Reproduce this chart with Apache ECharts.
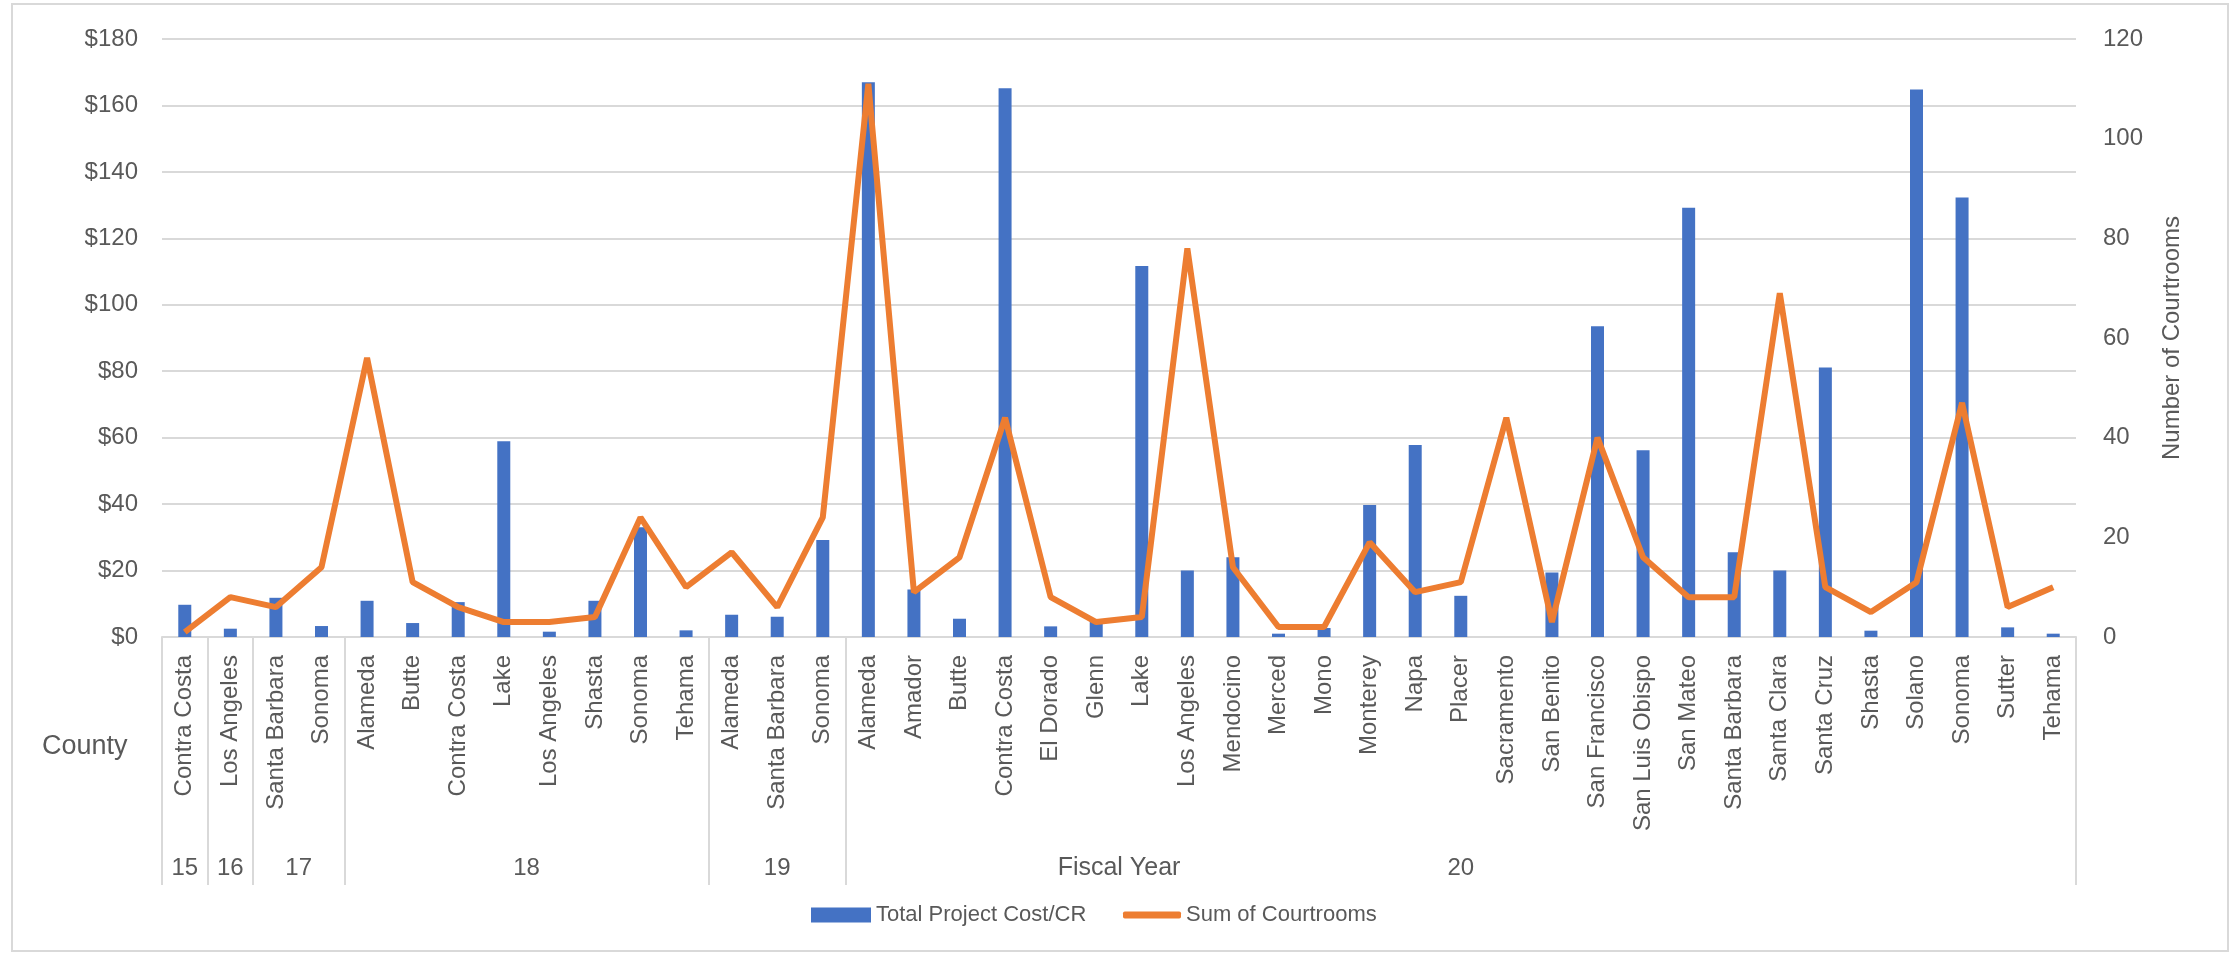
<!DOCTYPE html>
<html>
<head>
<meta charset="utf-8">
<script src="https://cdn.jsdelivr.net/npm/echarts@6/dist/echarts.min.js"></script>
<style>
  html, body { margin: 0; padding: 0; background: #ffffff; }
  #chart { width: 2239px; height: 954px; }
</style>
</head>
<body>
<div id="chart"></div>
<script>
// ---- Data ----
const categories = [
  'Contra Costa',
  'Los Angeles',
  'Santa Barbara', 'Sonoma',
  'Alameda', 'Butte', 'Contra Costa', 'Lake', 'Los Angeles', 'Shasta', 'Sonoma', 'Tehama',
  'Alameda', 'Santa Barbara', 'Sonoma',
  'Alameda', 'Amador', 'Butte', 'Contra Costa', 'El Dorado', 'Glenn', 'Lake', 'Los Angeles',
  'Mendocino', 'Merced', 'Mono', 'Monterey', 'Napa', 'Placer', 'Sacramento', 'San Benito',
  'San Francisco', 'San Luis Obispo', 'San Mateo', 'Santa Barbara', 'Santa Clara', 'Santa Cruz',
  'Shasta', 'Solano', 'Sonoma', 'Sutter', 'Tehama'
];
const fiscalYears = ['15', '16', '17', '18', '19', '20'];
const fiscalYearSizes = [1, 1, 2, 8, 3, 27];

const totalProjectCostPerCR = [
  9.7,
  2.5,
  11.8, 3.3,
  10.9, 4.2, 10.5, 58.9, 1.6, 10.9, 33, 2,
  6.7, 6.1, 29.2,
  167, 14.3, 5.5, 165.2, 3.2, 4.8, 111.7, 20,
  24, 1, 2.7, 39.7, 57.8, 12.4, 0, 19.4,
  93.5, 56.2, 129.2, 25.5, 20, 81.1,
  1.9, 164.8, 132.3, 2.9, 1
];
const sumOfCourtrooms = [
  1,
  8,
  6, 14,
  56, 11, 6, 3, 3, 4, 24, 10,
  17, 6, 24,
  111, 9, 16, 44, 8, 3, 4, 78,
  14, 2, 2, 19, 9, 11, 44, 3,
  40, 16, 8, 8, 69, 10,
  5, 11, 47, 6, 10
];
const leftTicks = { min: 0, max: 180, interval: 20 };
const rightTicks = { min: 0, max: 120, interval: 20 };

// group boundaries / centres derived from the group sizes
const groupBounds = [0];
const groupCenters = [];
fiscalYearSizes.forEach(function (s) {
  const start = groupBounds[groupBounds.length - 1];
  groupCenters.push(start + s / 2);
  groupBounds.push(start + s);
});

const TEXT = '#595959';
const GRID = '#d9d9d9';
const FONT = "'Liberation Sans', Arial, sans-serif";

const chart = echarts.init(document.getElementById('chart'));
const gridBox = { left: 162, right: 163, top: 39, bottom: 317 };

chart.setOption({
  animation: false,
  backgroundColor: '#ffffff',
  textStyle: { fontFamily: FONT, color: TEXT },
  title: {
    text: 'County',
    left: 37, top: 728,
    textStyle: { fontSize: 27, fontWeight: 'normal', color: TEXT, fontFamily: FONT }
  },
  legend: [
    {
      data: [{ name: 'Total Project Cost/CR', icon: 'rect' }],
      left: 806, top: 899,
      itemWidth: 60, itemHeight: 15, itemGap: 5,
      textStyle: { fontSize: 22, color: TEXT, fontFamily: FONT }
    },
    {
      data: [{ name: 'Sum of Courtrooms', icon: 'roundRect' }],
      left: 1118, top: 899,
      itemWidth: 58, itemHeight: 7, itemGap: 5,
      textStyle: { fontSize: 22, color: TEXT, fontFamily: FONT }
    }
  ],
  grid: [
    Object.assign({}, gridBox),
    Object.assign({}, gridBox)
  ],
  xAxis: [
    {
      type: 'category',
      gridIndex: 0,
      data: categories,
      axisLine: { show: true, lineStyle: { color: GRID, width: 2 } },
      axisTick: { show: false },
      axisLabel: {
        interval: 0, rotate: 90, margin: 18,
        fontSize: 24, color: TEXT, fontFamily: FONT
      }
    },
    {
      type: 'value',
      gridIndex: 1,
      min: 0, max: categories.length,
      position: 'bottom',
      axisLine: { show: false },
      splitLine: { show: false },
      axisTick: {
        show: true, inside: false, length: 248,
        customValues: groupBounds,
        lineStyle: { color: GRID, width: 2 }
      },
      axisLabel: {
        show: true, margin: 219,
        customValues: groupCenters,
        fontSize: 24, color: TEXT, fontFamily: FONT,
        formatter: function (v) {
          const i = groupCenters.indexOf(v);
          return i >= 0 ? fiscalYears[i] : '';
        }
      },
      name: 'Fiscal Year',
      nameLocation: 'middle',
      nameGap: 219,
      nameMoveOverlap: false,
      nameTextStyle: { fontSize: 25, color: TEXT, fontFamily: FONT, verticalAlign: 'top' }
    }
  ],
  yAxis: [
    {
      type: 'value',
      gridIndex: 0,
      position: 'left',
      min: leftTicks.min, max: leftTicks.max, interval: leftTicks.interval,
      axisLine: { show: false },
      axisTick: { show: false },
      splitLine: { show: true, lineStyle: { color: GRID, width: 2 } },
      axisLabel: {
        margin: 24, fontSize: 24, color: TEXT, fontFamily: FONT,
        formatter: function (v) { return '$' + v; }
      }
    },
    {
      type: 'value',
      gridIndex: 0,
      position: 'right',
      min: rightTicks.min, max: rightTicks.max, interval: rightTicks.interval,
      axisLine: { show: false },
      axisTick: { show: false },
      splitLine: { show: false },
      axisLabel: { margin: 27, fontSize: 24, color: TEXT, fontFamily: FONT },
      name: 'Number of Courtrooms',
      nameLocation: 'middle',
      nameRotate: 90,
      nameGap: 84,
      nameTextStyle: { fontSize: 24, color: TEXT, fontFamily: FONT }
    },
    {
      type: 'value',
      gridIndex: 1,
      show: false
    }
  ],
  graphic: [
    {
      type: 'rect',
      shape: { x: 12, y: 4, width: 2216, height: 947 },
      style: { fill: 'none', stroke: GRID, lineWidth: 2 },
      silent: true,
      z: -1
    }
  ],
  series: [
    {
      name: 'Total Project Cost/CR',
      type: 'bar',
      xAxisIndex: 0, yAxisIndex: 0,
      data: totalProjectCostPerCR,
      barWidth: 13,
      itemStyle: { color: '#4472C4' }
    },
    {
      name: 'Sum of Courtrooms',
      type: 'line',
      xAxisIndex: 0, yAxisIndex: 1,
      data: sumOfCourtrooms,
      symbol: 'none',
      lineStyle: { color: '#ED7D31', width: 6 },
      itemStyle: { color: '#ED7D31' },
      z: 3
    }
  ]
});
</script>
</body>
</html>
